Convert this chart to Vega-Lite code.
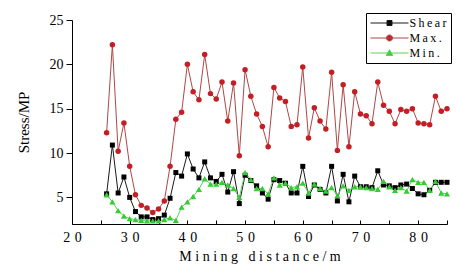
{
  "$schema": "https://vega.github.io/schema/vega-lite/v6.json",
  "width": 375,
  "height": 204,
  "autosize": {"type": "none"},
  "padding": {"left": 72, "top": 20, "right": 9, "bottom": 47},
  "background": "white",
  "config": {
    "view": {"stroke": null},
    "font": "Liberation Serif",
    "axis": {"grid": false, "domainColor": "black", "tickColor": "black", "labelColor": "black", "titleColor": "black", "labelFont": "Liberation Serif", "titleFont": "Liberation Serif", "titleFontWeight": "normal", "domainWidth": 1, "tickWidth": 1}
  },
  "data": {
    "values": [
      {"d":26,"s":"Max.","v":12.3},{"d":27,"s":"Max.","v":22.2},{"d":28,"s":"Max.","v":10.2},{"d":29,"s":"Max.","v":13.4},{"d":30,"s":"Max.","v":8.5},
      {"d":31,"s":"Max.","v":5.3},{"d":32,"s":"Max.","v":4.1},{"d":33,"s":"Max.","v":3.8},{"d":34,"s":"Max.","v":3.3},{"d":35,"s":"Max.","v":3.7},
      {"d":36,"s":"Max.","v":4.6},{"d":37,"s":"Max.","v":8.5},{"d":38,"s":"Max.","v":13.8},{"d":39,"s":"Max.","v":14.6},{"d":40,"s":"Max.","v":20.0},
      {"d":41,"s":"Max.","v":16.9},{"d":42,"s":"Max.","v":16.0},{"d":43,"s":"Max.","v":21.1},{"d":44,"s":"Max.","v":16.7},{"d":45,"s":"Max.","v":16.1},
      {"d":46,"s":"Max.","v":18.0},{"d":47,"s":"Max.","v":13.6},{"d":48,"s":"Max.","v":17.9},{"d":49,"s":"Max.","v":9.7},{"d":50,"s":"Max.","v":19.4},
      {"d":51,"s":"Max.","v":16.4},{"d":52,"s":"Max.","v":14.4},{"d":53,"s":"Max.","v":13.0},{"d":54,"s":"Max.","v":10.7},{"d":55,"s":"Max.","v":17.4},
      {"d":56,"s":"Max.","v":16.2},{"d":57,"s":"Max.","v":15.8},{"d":58,"s":"Max.","v":13.0},{"d":59,"s":"Max.","v":13.2},{"d":60,"s":"Max.","v":19.7},
      {"d":61,"s":"Max.","v":11.7},{"d":62,"s":"Max.","v":15.1},{"d":63,"s":"Max.","v":13.6},{"d":64,"s":"Max.","v":12.7},{"d":65,"s":"Max.","v":19.1},
      {"d":66,"s":"Max.","v":10.3},{"d":67,"s":"Max.","v":17.7},{"d":68,"s":"Max.","v":10.7},{"d":69,"s":"Max.","v":16.9},{"d":70,"s":"Max.","v":14.4},
      {"d":71,"s":"Max.","v":14.2},{"d":72,"s":"Max.","v":13.3},{"d":73,"s":"Max.","v":18.0},{"d":74,"s":"Max.","v":15.4},{"d":75,"s":"Max.","v":14.7},
      {"d":76,"s":"Max.","v":13.3},{"d":77,"s":"Max.","v":14.9},{"d":78,"s":"Max.","v":14.7},{"d":79,"s":"Max.","v":15.0},{"d":80,"s":"Max.","v":13.4},
      {"d":81,"s":"Max.","v":13.3},{"d":82,"s":"Max.","v":13.2},{"d":83,"s":"Max.","v":16.4},{"d":84,"s":"Max.","v":14.7},{"d":85,"s":"Max.","v":15.0},
      {"d":26,"s":"Shear","v":5.4},{"d":27,"s":"Shear","v":10.9},{"d":28,"s":"Shear","v":5.5},{"d":29,"s":"Shear","v":7.3},{"d":30,"s":"Shear","v":5.0},
      {"d":31,"s":"Shear","v":3.4},{"d":32,"s":"Shear","v":2.8},{"d":33,"s":"Shear","v":2.8},{"d":34,"s":"Shear","v":2.5},{"d":35,"s":"Shear","v":2.6},
      {"d":36,"s":"Shear","v":3.0},{"d":37,"s":"Shear","v":4.9},{"d":38,"s":"Shear","v":7.8},{"d":39,"s":"Shear","v":7.4},{"d":40,"s":"Shear","v":9.9},
      {"d":41,"s":"Shear","v":8.2},{"d":42,"s":"Shear","v":7.2},{"d":43,"s":"Shear","v":9.0},{"d":44,"s":"Shear","v":7.2},{"d":45,"s":"Shear","v":6.8},
      {"d":46,"s":"Shear","v":7.6},{"d":47,"s":"Shear","v":5.6},{"d":48,"s":"Shear","v":7.9},{"d":49,"s":"Shear","v":4.3},{"d":50,"s":"Shear","v":7.5},
      {"d":51,"s":"Shear","v":6.9},{"d":52,"s":"Shear","v":6.3},{"d":53,"s":"Shear","v":5.5},{"d":54,"s":"Shear","v":4.8},{"d":55,"s":"Shear","v":7.0},
      {"d":56,"s":"Shear","v":6.9},{"d":57,"s":"Shear","v":6.6},{"d":58,"s":"Shear","v":5.5},{"d":59,"s":"Shear","v":5.5},{"d":60,"s":"Shear","v":8.5},
      {"d":61,"s":"Shear","v":5.1},{"d":62,"s":"Shear","v":6.4},{"d":63,"s":"Shear","v":5.9},{"d":64,"s":"Shear","v":5.5},{"d":65,"s":"Shear","v":8.5},
      {"d":66,"s":"Shear","v":4.6},{"d":67,"s":"Shear","v":7.6},{"d":68,"s":"Shear","v":4.5},{"d":69,"s":"Shear","v":7.4},{"d":70,"s":"Shear","v":6.2},
      {"d":71,"s":"Shear","v":6.2},{"d":72,"s":"Shear","v":6.1},{"d":73,"s":"Shear","v":8.0},{"d":74,"s":"Shear","v":6.4},{"d":75,"s":"Shear","v":6.3},
      {"d":76,"s":"Shear","v":6.1},{"d":77,"s":"Shear","v":6.4},{"d":78,"s":"Shear","v":6.5},{"d":79,"s":"Shear","v":6.0},{"d":80,"s":"Shear","v":5.4},
      {"d":81,"s":"Shear","v":5.3},{"d":82,"s":"Shear","v":5.8},{"d":83,"s":"Shear","v":6.7},{"d":84,"s":"Shear","v":6.7},{"d":85,"s":"Shear","v":6.7},
      {"d":26,"s":"Min.","v":5.3},{"d":27,"s":"Min.","v":4.5},{"d":28,"s":"Min.","v":3.5},{"d":29,"s":"Min.","v":2.9},{"d":30,"s":"Min.","v":2.6},
      {"d":31,"s":"Min.","v":2.5},{"d":32,"s":"Min.","v":2.4},{"d":33,"s":"Min.","v":2.35},{"d":34,"s":"Min.","v":2.35},{"d":35,"s":"Min.","v":2.35},
      {"d":36,"s":"Min.","v":2.5},{"d":37,"s":"Min.","v":2.7},{"d":38,"s":"Min.","v":2.4},{"d":39,"s":"Min.","v":3.9},{"d":40,"s":"Min.","v":4.5},
      {"d":41,"s":"Min.","v":5.1},{"d":42,"s":"Min.","v":5.9},{"d":43,"s":"Min.","v":7.1},{"d":44,"s":"Min.","v":6.5},{"d":45,"s":"Min.","v":6.5},
      {"d":46,"s":"Min.","v":6.7},{"d":47,"s":"Min.","v":6.4},{"d":48,"s":"Min.","v":6.0},{"d":49,"s":"Min.","v":5.0},{"d":50,"s":"Min.","v":7.8},
      {"d":51,"s":"Min.","v":7.0},{"d":52,"s":"Min.","v":6.0},{"d":53,"s":"Min.","v":6.0},{"d":54,"s":"Min.","v":5.4},{"d":55,"s":"Min.","v":7.2},
      {"d":56,"s":"Min.","v":6.4},{"d":57,"s":"Min.","v":6.6},{"d":58,"s":"Min.","v":6.1},{"d":59,"s":"Min.","v":6.2},{"d":60,"s":"Min.","v":6.6},
      {"d":61,"s":"Min.","v":5.5},{"d":62,"s":"Min.","v":6.5},{"d":63,"s":"Min.","v":6.0},{"d":64,"s":"Min.","v":5.7},{"d":65,"s":"Min.","v":6.1},
      {"d":66,"s":"Min.","v":5.2},{"d":67,"s":"Min.","v":6.3},{"d":68,"s":"Min.","v":5.8},{"d":69,"s":"Min.","v":6.2},{"d":70,"s":"Min.","v":6.2},
      {"d":71,"s":"Min.","v":6.1},{"d":72,"s":"Min.","v":6.0},{"d":73,"s":"Min.","v":5.9},{"d":74,"s":"Min.","v":6.8},{"d":75,"s":"Min.","v":6.2},
      {"d":76,"s":"Min.","v":5.8},{"d":77,"s":"Min.","v":6.1},{"d":78,"s":"Min.","v":5.7},{"d":79,"s":"Min.","v":7.0},{"d":80,"s":"Min.","v":6.7},
      {"d":81,"s":"Min.","v":6.7},{"d":82,"s":"Min.","v":5.8},{"d":83,"s":"Min.","v":6.8},{"d":84,"s":"Min.","v":5.5},{"d":85,"s":"Min.","v":5.4}
    ]
  },
  "encoding": {
    "x": {
      "field": "d", "type": "quantitative",
      "scale": {"domain": [20, 85], "nice": false, "zero": false},
      "axis": {
        "values": [20,25,30,35,40,45,50,55,60,65,70,75,80,85],
        "tickSize": -4,
        "labelPadding": 10,
        "labelFontSize": 14,
        "labelOverlap": false,
        "labelFlush": false,
        "labelExpr": "datum.value % 10 == 0 ? join(split(datum.label, ''), '\u2004') : ''",
        "title": "M i n i n g\u00a0\u00a0 d i s t a n c e / m",
        "titleFontSize": 14,
        "titlePadding": 5
      }
    },
    "y": {
      "field": "v", "type": "quantitative",
      "scale": {"domain": [2, 25], "nice": false, "zero": false},
      "axis": {
        "values": [5, 10, 15, 20, 25],
        "tickSize": 6,
        "labelPadding": 3,
        "labelFontSize": 14,
        "title": "Stress/MP",
        "titleFontSize": 15,
        "titlePadding": 18
      }
    }
  },
  "layer": [
    {"transform": [{"filter": "datum.s == 'Max.'"}], "mark": {"type": "line", "strokeWidth": 1, "color": "#b04646"}, "encoding": {}},
    {"transform": [{"filter": "datum.s == 'Shear'"}], "mark": {"type": "line", "strokeWidth": 1, "color": "#1a1a1a"}, "encoding": {}},
    {"transform": [{"filter": "datum.s == 'Min.'"}], "mark": {"type": "line", "strokeWidth": 1, "color": "#5ad25a"}, "encoding": {}},
    {
      "transform": [{"filter": "datum.s == 'Max.'"}],
      "mark": {"type": "point", "filled": true, "opacity": 1, "shape": "circle", "size": 30},
      "encoding": {
        "fill": {
          "field": "s", "type": "nominal",
          "scale": {"domain": ["Shear", "Max.", "Min."], "range": ["#000000", "#c41e24", "#33cc33"]},
          "legend": {
            "orient": "none",
            "legendX": 294,
            "legendY": -7,
            "title": null,
            "strokeColor": "black",
            "fillColor": "white",
            "padding": 4,
            "symbolSize": 100,
            "symbolOffset": 13.5,
            "labelOffset": 14,
            "symbolStrokeWidth": 1,
            "symbolOpacity": 1,
            "symbolType": {"expr": "datum.value == 'Shear' ? 'M-3.8,0H3.8M-0.5,-0.5H0.5V0.5H-0.5Z' : datum.value == 'Max.' ? 'M-3.8,0H3.8M-0.6,0A0.6,0.6,0,1,0,0.6,0A0.6,0.6,0,1,0,-0.6,0Z' : 'M-3.8,0H3.8M0,-0.65L0.65,0.5L-0.65,0.5Z'"},
            "symbolStrokeColor": {"expr": "datum.value == 'Shear' ? '#1a1a1a' : datum.value == 'Max.' ? '#b04646' : '#5ad25a'"},
            "labelFont": "Liberation Serif",
            "labelFontSize": 12,
            "labelColor": "black",
            "rowPadding": 3,
            "labelExpr": "join(split(datum.label, ''), '\u2009')"
          }
        }
      }
    },
    {
      "transform": [{"filter": "datum.s == 'Shear'"}],
      "mark": {"type": "point", "filled": true, "opacity": 1, "shape": "square", "size": 25},
      "encoding": {
        "fill": {"field": "s", "type": "nominal", "scale": {"domain": ["Shear", "Max.", "Min."], "range": ["#000000", "#c41e24", "#33cc33"]}}
      }
    },
    {
      "transform": [{"filter": "datum.s == 'Min.'"}],
      "mark": {"type": "point", "filled": true, "opacity": 1, "shape": "triangle-up", "size": 38},
      "encoding": {
        "fill": {"field": "s", "type": "nominal", "scale": {"domain": ["Shear", "Max.", "Min."], "range": ["#000000", "#c41e24", "#33cc33"]}}
      }
    }
  ]
}
